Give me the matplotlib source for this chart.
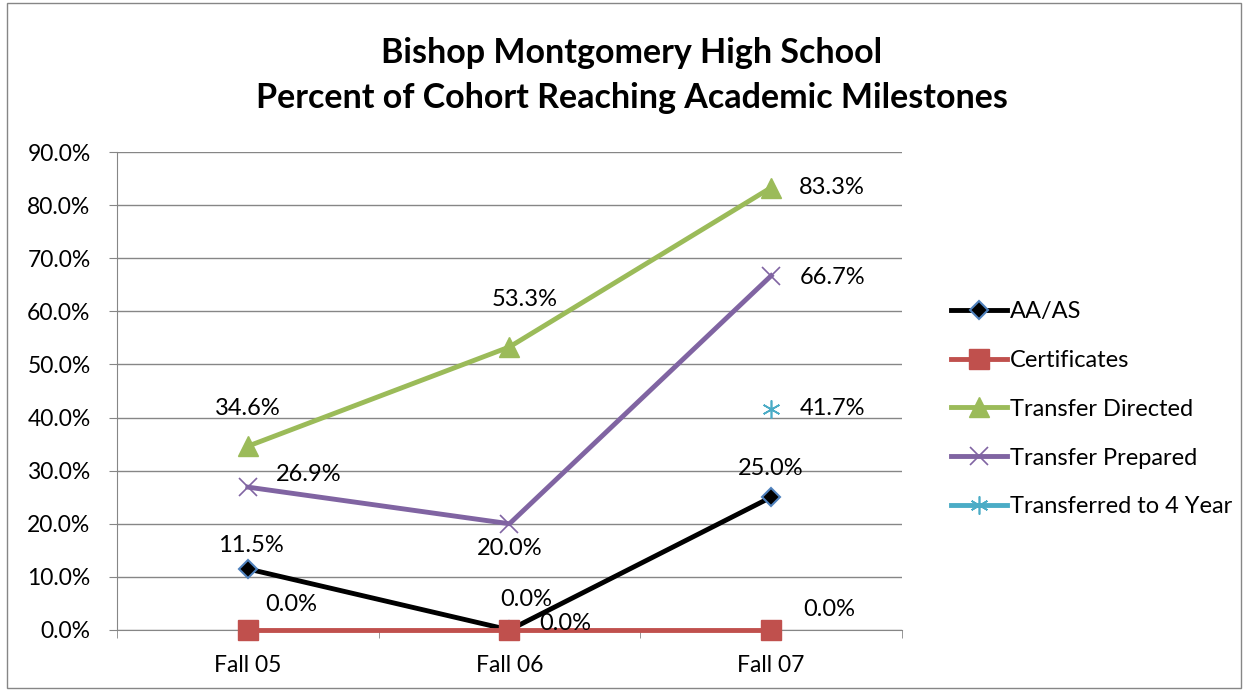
import numpy as np
import matplotlib.pyplot as plt
from matplotlib.patches import Rectangle

# Chart data
terms = ['Fall 05', 'Fall 06', 'Fall 07']
aa_as = [11.5, 0.0, 25.0]
certificates = [0.0, 0.0, 0.0]
transfer_directed = [34.6, 53.3, 83.3]
transfer_prepared = [26.9, 20.0, 66.7]
transferred_4yr = [np.nan, np.nan, 41.7]

plt.rcParams['font.family'] = ['Lato', 'DejaVu Sans']

fig = plt.figure(figsize=(12.46, 6.90), dpi=100)
ax = fig.add_axes([0.0939, 0.087, 0.63, 0.6927])

# outer chart border
fig.patches.append(Rectangle((0.006, 0.003), 0.99, 0.993, transform=fig.transFigure,
                             fill=False, edgecolor='#868686', linewidth=1))

x = np.arange(len(terms))
lw = 3.5

ax.plot(x, aa_as, color='black', lw=lw, marker='D', markersize=9,
        markerfacecolor='black', markeredgecolor='#4F81BD', markeredgewidth=1.5,
        label='AA/AS', zorder=4, clip_on=False)
ax.plot(x, certificates, color='#C0504D', lw=lw, marker='s', markersize=14,
        label='Certificates', zorder=5, clip_on=False)
ax.plot(x, transfer_directed, color='#9BBB59', lw=lw, marker='^', markersize=14,
        label='Transfer Directed', zorder=4, clip_on=False)
ax.plot(x, transfer_prepared, color='#8064A2', lw=lw, marker='x', markersize=13,
        markeredgewidth=1.2, label='Transfer Prepared', zorder=4, clip_on=False)
ax.plot(x, transferred_4yr, color='#4BACC6', lw=lw, marker=(6, 2, 0), markersize=13,
        markeredgewidth=1.2, label='Transferred to 4 Year', zorder=4, clip_on=False)

# data labels (offsets in points)
def put_labels(vals, offsets):
    for xi, v, off in zip(x, vals, offsets):
        if np.isnan(v):
            continue
        ax.annotate(f'{v:.1f}%', (xi, v), xytext=off, textcoords='offset points',
                    ha='center', va='center', fontsize=17, zorder=6)

put_labels(aa_as, [(2, 17), (12, 22), (0, 21)])
put_labels(certificates, [(31, 18), (40, 5), (42, 15)])
put_labels(transfer_directed, [(0, 27), (11, 34), (44, 0)])
put_labels(transfer_prepared, [(44, 9), (0, -18), (44, -1)])
put_labels(transferred_4yr, [(0, 0), (0, 0), (44, 0)])

ax.set_xlim(-0.5, 2.5)
ax.set_ylim(0, 90)
ax.set_yticks(np.arange(0, 91, 10))
ax.set_yticklabels([f'{t:.1f}%' for t in np.arange(0, 91, 10)], fontsize=16.5)
ax.set_xticks(x)
ax.set_xticklabels(terms, fontsize=16.5)
ax.set_xticks([-0.5, 0.5, 1.5, 2.5], minor=True)
ax.tick_params(axis='x', which='major', length=0, pad=18)
ax.tick_params(axis='x', which='minor', length=6, color='#868686', direction='out')
ax.tick_params(axis='y', length=6, color='#868686', direction='out', pad=13)
ax.yaxis.grid(True, color='#868686', linewidth=1)
ax.set_axisbelow(True)
for side in ['top', 'right']:
    ax.spines[side].set_visible(False)
for side in ['left', 'bottom']:
    ax.spines[side].set_color('#868686')

fig.text(0.507, 0.89, 'Bishop Montgomery High School\nPercent of Cohort Reaching Academic Milestones',
         ha='center', va='center', fontsize=24.5, fontweight='bold', linespacing=1.5)

ax.legend(loc='center left', bbox_to_anchor=(1.035, 0.462), frameon=False, fontsize=17,
          handlelength=2.4, handletextpad=0.1, labelspacing=1.18)

fig.savefig('out.png', dpi=100)
